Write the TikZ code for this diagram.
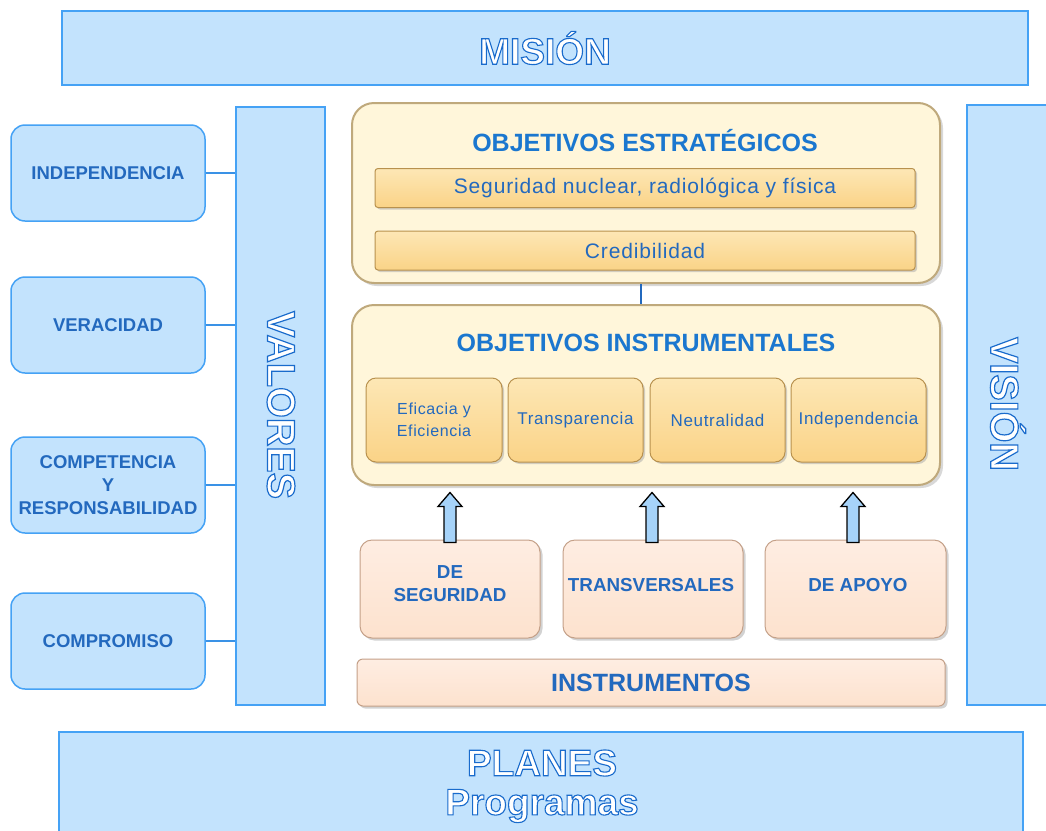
\documentclass[tikz,border=0pt]{standalone}
\usepackage{fontspec}
\setmainfont{Liberation Sans}
\newfontfamily\embfont[FakeBold=3]{Liberation Sans Bold}
\usetikzlibrary{shadows}
\definecolor{lb}{HTML}{C3E3FD}
\definecolor{lbd}{HTML}{45A2F5}
\definecolor{lln}{HTML}{3A92E6}
\definecolor{tb}{HTML}{2369BE}
\definecolor{tt}{HTML}{1B77CF}
\definecolor{cream}{HTML}{FFF6DA}
\definecolor{creamd}{HTML}{BFA97C}
\definecolor{gold}{HTML}{FAD387}
\definecolor{goldl}{HTML}{FDE7B5}
\definecolor{goldd}{HTML}{B8914E}
\definecolor{peach}{HTML}{FDE2CE}
\definecolor{peachl}{HTML}{FEEDE2}
\definecolor{peachd}{HTML}{C4A088}
\definecolor{arrowb}{HTML}{A6D3F9}
\newcommand{\shtxt}[1]{{\embfont\color{white}\special{pdf:literal direct 0.1 0.42 0.8 RG}#1}}
\tikzset{
  bluebox/.style={draw=lbd, fill=lb, line width=1.5pt, inner sep=0pt},
  valbox/.style={bluebox, rounded corners=14pt, minimum width=194pt, minimum height=96pt,
    align=center, text=tb, font=\fontsize{18.5}{23}\selectfont\bfseries},
  bigtxt/.style={font=\fontsize{37}{42}\selectfont, inner sep=0pt},
  sidetxt/.style={font=\fontsize{39.5}{42}\selectfont, inner sep=0pt, rotate=-90},
  creambox/.style={draw=creamd, line width=2pt, fill=cream, rounded corners=22pt,
    minimum width=588pt, minimum height=180pt, inner sep=0pt,
    drop shadow={shadow xshift=3pt, shadow yshift=-3pt, fill=black!30}},
  titletxt/.style={font=\fontsize{25}{30}\selectfont\bfseries, text=tt, inner sep=0pt},
  goldbar/.style={draw=goldd, line width=1pt, top color=goldl, bottom color=gold,
    rounded corners=3pt, minimum width=540pt, minimum height=39pt, inner sep=0pt,
    text=tb, font=\fontsize{21}{24}\selectfont\addfontfeature{LetterSpace=4},
    drop shadow={shadow xshift=2pt, shadow yshift=-2pt, fill=black!35}},
  goldbox/.style={draw=goldd, line width=1pt, top color=goldl, bottom color=gold,
    rounded corners=10pt, minimum width=135pt, minimum height=84pt, inner sep=0pt,
    align=center, text=tb, font=\fontsize{17}{22}\selectfont\addfontfeature{LetterSpace=4},
    drop shadow={shadow xshift=2pt, shadow yshift=-2pt, fill=black!35}},
  peachbox/.style={draw=peachd, line width=1pt, top color=peachl, bottom color=peach,
    rounded corners=12pt, minimum width=180pt, minimum height=98pt, inner sep=0pt,
    drop shadow={shadow xshift=2.5pt, shadow yshift=-2.5pt, fill=black!35}},
  ptxt/.style={align=center, text=tb, font=\fontsize{18.8}{23}\selectfont\bfseries, inner sep=0pt},
  lline/.style={draw=lln, line width=2pt},
  vline/.style={draw=tb, line width=1.6pt},
  blockarrow/.style={draw=black, line width=1.3pt, fill=arrowb, line join=miter}
}
\begin{document}
\begin{tikzpicture}[x=1pt,y=-1pt]
\useasboundingbox (0,0) rectangle (1046,830);
\fill[white] (0,0) rectangle (1046,830);

% top and bottom bands
\node[bluebox, minimum width=966pt, minimum height=74pt] (mision) at (545,48) {};
\node[bigtxt] (misiontxt) at (545,48) {\shtxt{MISIÓN}};
\node[bluebox, minimum width=964pt, minimum height=120pt] (planes) at (541,792) {};
\node[bigtxt] (planestxt) at (542,763) {\shtxt{PLANES}};
\node[bigtxt] (progtxt) at (542,806) {\shtxt{Programas}};

% side columns
\node[bluebox, minimum width=89pt, minimum height=598pt] (valores) at (280.5,406) {};
\node[sidetxt] (valorestxt) at (281,405) {\shtxt{VALORES}};
\node[bluebox, minimum width=90pt, minimum height=600pt] (vision) at (1012,405) {};
\node[sidetxt] (visiontxt) at (1008,404) {\shtxt{VISIÓN}};

% values
\node[valbox] (v1) at (108,173) {INDEPENDENCIA};
\node[valbox] (v2) at (108,325) {VERACIDAD};
\node[valbox] (v3) at (108,485) {COMPETENCIA\\Y\\RESPONSABILIDAD};
\node[valbox] (v4) at (108,641) {COMPROMISO};
\foreach \v in {v1,v2,v3,v4}
  \draw[lline] (\v.east) -- (\v.east -| valores.west);

% objetivos estrategicos
\node[creambox] (oe) at (646,193) {};
\node[titletxt] (oetitle) at (645,141) {OBJETIVOS ESTRATÉGICOS};
\node[goldbar] (seg) at (645,188) {Seguridad nuclear, radiológica y física};
\node[goldbar] (cred) at (645,250.5) {Credibilidad};

% objetivos instrumentales
\node[creambox] (oi) at (646,395) {};
\node[titletxt] (oititle) at (646,343) {OBJETIVOS INSTRUMENTALES};
\node[goldbox, minimum width=136pt] (i1) at (434,420) {\fontsize{16}{22}\selectfont Eficacia y\\\fontsize{16}{22}\selectfont Eficiencia};
\node[goldbox] (i2) at (575.5,420) {Transparencia};
\node[goldbox] (i3) at (717.5,420) {Neutralidad};
\node[goldbox] (i4) at (858.5,420) {Independencia};

\draw[vline] ([xshift=-5pt]oe.south) -- ([xshift=-5pt]oi.north);

% instrumentos
\node[peachbox] (b1) at (450,589) {};
\node[ptxt] (b1t) at (450,584) {DE\\SEGURIDAD};
\node[peachbox] (b2) at (653,589) {};
\node[ptxt] (b2t) at (651,585) {TRANSVERSALES};
\node[peachbox, minimum width=181pt] (b3) at (855.5,589) {};
\node[ptxt] (b3t) at (858,585) {DE APOYO};
\node[peachbox, minimum width=588pt, minimum height=47pt, rounded corners=6pt] (instr) at (651,682.5) {};
\node[titletxt, text=tb] (instrt) at (651,682.5) {INSTRUMENTOS};

% block arrows from the instrument boxes up to the instrumental objectives
\draw[blockarrow] ([shift={(-6,3)}]b1.north) -- ++(0,-36) -- ++(-6,0) -- ++(12,-14)
  -- ++(12,14) -- ++(-6,0) -- ++(0,36) -- cycle;
\draw[blockarrow] ([shift={(-7,3)}]b2.north) -- ++(0,-36) -- ++(-6,0) -- ++(12,-14)
  -- ++(12,14) -- ++(-6,0) -- ++(0,36) -- cycle;
\draw[blockarrow] ([shift={(-8.5,3)}]b3.north) -- ++(0,-36) -- ++(-6,0) -- ++(12,-14)
  -- ++(12,14) -- ++(-6,0) -- ++(0,36) -- cycle;
\end{tikzpicture}
\end{document}
